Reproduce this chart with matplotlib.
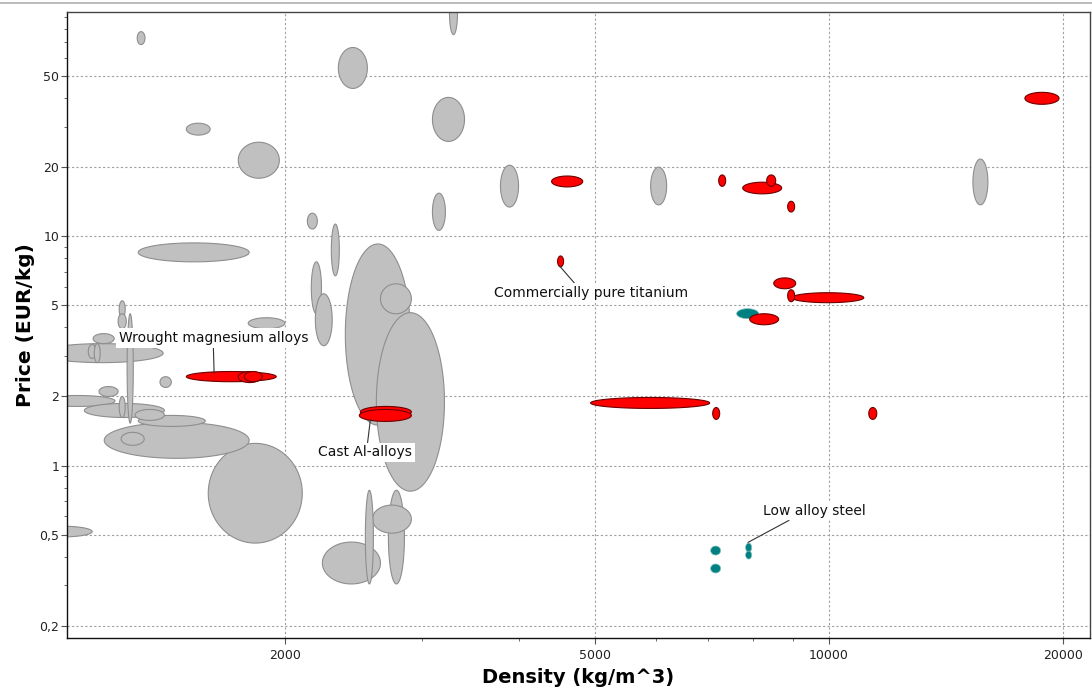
import numpy as np
import matplotlib
matplotlib.use("Agg")
import matplotlib.pyplot as plt
from matplotlib.lines import Line2D
from matplotlib.ticker import FixedLocator, NullFormatter, LogLocator

# Property ranges (density kg/m^3, price EUR/kg) for each material bubble.
other_density = [
    (3252, 3330), (1290, 1320), (2340, 2550), (1492, 1601), (1740, 1965),
    (3092, 3400), (3782, 3990), (3092, 3213), (5900, 6186), (15320, 16015),
    (2135, 2199), (2292, 2347), (1294, 1797), (2160, 2226), (2186, 2298),
    (2389, 2897), (2651, 2905), (2619, 3204), (1592, 2103), (1170, 1797),
    (1230, 1317), (939, 1129), (968, 1393), (1116, 1142), (1136, 1156),
    (1132, 1205), (968, 1208), (1152, 1219), (1103, 1398), (1294, 1578),
    (1282, 1398), (1223, 1245), (1380, 1427), (1223, 1245), (1219, 1249),
    (1252, 1275), (1792, 1997), (2232, 2651), (2714, 2846), (2588, 2905),
    (2535, 2596),
]
other_price = [
    (75.7, 116), (68.5, 78.0), (44.1, 66.5), (27.6, 31.1), (17.9, 25.7),
    (25.9, 40.3), (13.4, 20.4), (10.6, 15.4), (13.7, 20.0), (13.7, 21.7),
    (10.75, 12.6), (6.72, 11.3), (7.73, 9.35), (4.59, 7.73), (3.33, 5.61),
    (1.50, 9.25), (4.59, 6.20), (0.773, 4.64), (0.459, 1.249), (1.075, 1.542),
    (1.225, 1.395), (0.488, 0.544), (2.81, 3.40), (2.93, 3.37), (2.81, 3.40),
    (3.40, 3.76), (1.81, 2.02), (2.00, 2.21), (1.62, 1.865), (1.481, 1.654),
    (1.573, 1.756), (1.62, 2.00), (2.19, 2.44), (4.41, 5.23), (3.95, 4.59),
    (1.53, 4.59), (3.95, 4.41), (0.3045, 0.4637), (0.3045, 0.78), (0.507, 0.672),
    (0.3045, 0.78),
]

nonferrous_density = [
    (1492, 1947), (1740, 1862), (1771, 1868), (2498, 2905), (2490, 2905),
    (4479, 4559), (4400, 4825), (7217, 7368), (7749, 8697), (8319, 8544),
    (8852, 9037), (8495, 9065), (8958, 11090), (8852, 9037), (7911, 8619),
    (17870, 19770), (4939, 7027), (7090, 7238), (11255, 11525),
]
nonferrous_price = [
    (2.32, 2.57), (2.30, 2.57), (2.32, 2.57), (1.62, 1.81), (1.557, 1.756),
    (7.35, 8.20), (16.4, 18.3), (16.5, 18.5), (15.3, 17.2), (16.5, 18.5),
    (12.75, 14.2), (5.90, 6.58), (5.13, 5.67), (5.18, 5.84), (4.11, 4.59),
    (37.6, 42.4), (1.774, 1.98), (1.589, 1.79), (1.589, 1.79),
]

ferrous_density = [(7611, 8123), (7047, 7258), (7047, 7258), (7816, 7957), (7816, 7957)]
ferrous_price = [(4.37, 4.83), (0.407, 0.4455), (0.340, 0.372), (0.4195, 0.459), (0.391, 0.424)]

# Labelled materials: text, label anchor, pointed-at spot, leader start on the box
labels = ["Wrought magnesium alloys", "Cast Al-alloys",
          "Commercially pure titanium", "Low alloy steel"]
label_xy = [(1616, 3.60), (2535, 1.14), (4939, 5.65), (9590, 0.636)]
label_target = [(1620, 2.52), (2573, 1.589), (4505, 7.42), (7870, 0.462)]
label_relpos = [(0.5, 0.0), (0.52, 1.0), (0.43, 1.0), (0.3, 0.0)]

x_ticks = [2000, 5000, 10000, 20000]
x_ticklabels = ["2000", "5000", "10000", "20000"]
y_ticks = [0.2, 0.5, 1, 2, 5, 10, 20, 50]
y_ticklabels = ["0,2", "0,5", "1", "2", "5", "10", "20", "50"]

fig = plt.figure(figsize=(10.92, 6.93), dpi=100)
ax = fig.add_axes([0.0614, 0.0794, 0.9365, 0.9033])
ax.set_xscale("log")
ax.set_yscale("log")
ax.set_xlim(1048, 21650)
ax.set_ylim(0.177, 95)

t = np.linspace(0, 2 * np.pi, 240)


def bubble(xr, yr, face, edge, lw=0.8, z=2):
    lx0, lx1 = np.log10(xr)
    ly0, ly1 = np.log10(yr)
    cx, rx = (lx0 + lx1) / 2, (lx1 - lx0) / 2
    cy, ry = (ly0 + ly1) / 2, (ly1 - ly0) / 2
    ax.fill(10 ** (cx + rx * np.cos(t)), 10 ** (cy + ry * np.sin(t)),
            facecolor=face, edgecolor=edge, linewidth=lw, zorder=z)


for xr, yr in zip(other_density, other_price):
    bubble(xr, yr, "#c0c0c0", "#8e8e8e")
for xr, yr in zip(ferrous_density, ferrous_price):
    bubble(xr, yr, "#008080", "#7fbfbf", lw=0.5, z=3)
for xr, yr in zip(nonferrous_density, nonferrous_price):
    bubble(xr, yr, "#ff0000", "#6e0000", lw=0.8, z=4)

for txt, pos, tgt, rp in zip(labels, label_xy, label_target, label_relpos):
    ax.annotate(txt, xy=tgt, xytext=pos, ha="center", va="center",
                fontsize=10, color="#111111", zorder=6,
                bbox=dict(boxstyle="square,pad=0.2", facecolor="white",
                          edgecolor="none"),
                arrowprops=dict(arrowstyle="-", color="#333333", lw=0.8,
                                shrinkA=0, shrinkB=0, relpos=rp))

ax.xaxis.set_major_locator(FixedLocator(x_ticks))
ax.set_xticklabels(x_ticklabels)
ax.xaxis.set_minor_locator(LogLocator(base=10, subs=np.arange(2, 10)))
ax.xaxis.set_minor_formatter(NullFormatter())
ax.yaxis.set_major_locator(FixedLocator(y_ticks))
ax.set_yticklabels(y_ticklabels)
ax.yaxis.set_minor_locator(LogLocator(base=10, subs=np.arange(2, 10)))
ax.yaxis.set_minor_formatter(NullFormatter())

ax.tick_params(which="major", direction="out", length=4.5, width=0.8,
               color="#555555", labelsize=9, labelcolor="#222222")
ax.tick_params(axis="y", which="major", pad=1)
ax.tick_params(which="minor", direction="out", length=2.5, width=0.6,
               color="#555555")

ax.grid(True, which="major", linestyle=(0, (2, 2)), color="#a0a0a0",
        linewidth=0.8, zorder=0)
ax.set_axisbelow(True)

for side in ["left", "bottom"]:
    ax.spines[side].set_color("#111111")
    ax.spines[side].set_linewidth(1.0)
for side in ["top", "right"]:
    ax.spines[side].set_color("#444444")
    ax.spines[side].set_linewidth(1.0)

ax.set_xlabel("Density (kg/m^3)", fontsize=14, fontweight="bold", labelpad=4)
ax.set_ylabel("Price (EUR/kg)", fontsize=14.5, fontweight="bold", labelpad=3)

fig.add_artist(Line2D([0, 1], [0.996, 0.996], color="#b0b0b0", lw=1.2,
                      transform=fig.transFigure))

fig.savefig("out.png", dpi=100)
